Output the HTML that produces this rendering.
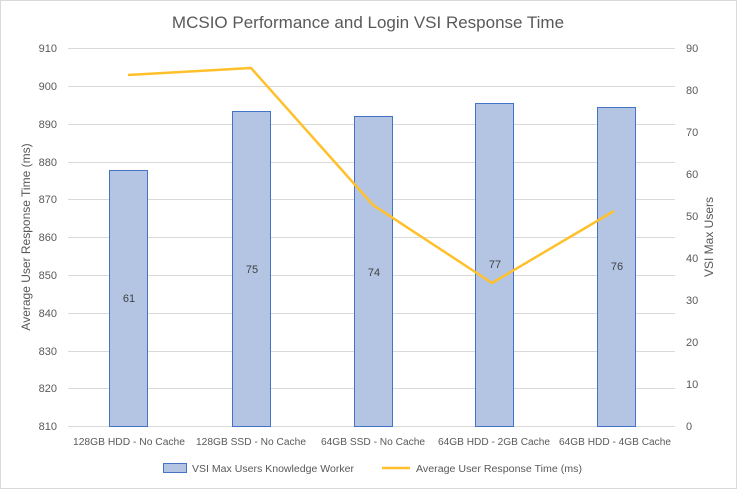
<!DOCTYPE html>
<html><head><style>
body{margin:0;background:#fff}
svg{display:block;font-family:"Liberation Sans",sans-serif}
</style></head><body>
<svg width="737" height="489" viewBox="0 0 737 489">
<rect x="0.5" y="0.5" width="736" height="488" fill="#fff" stroke="#d9d9d9"/>
<text x="368" y="28" font-size="17" fill="#595959" text-anchor="middle">MCSIO Performance and Login VSI Response Time</text>
<g stroke="#d9d9d9" stroke-width="1">
<line x1="68" x2="675" y1="48.5" y2="48.5"/><line x1="68" x2="675" y1="86.5" y2="86.5"/>
<line x1="68" x2="675" y1="124.5" y2="124.5"/><line x1="68" x2="675" y1="162.5" y2="162.5"/>
<line x1="68" x2="675" y1="199.5" y2="199.5"/><line x1="68" x2="675" y1="237.5" y2="237.5"/>
<line x1="68" x2="675" y1="275.5" y2="275.5"/><line x1="68" x2="675" y1="313.5" y2="313.5"/>
<line x1="68" x2="675" y1="351.5" y2="351.5"/><line x1="68" x2="675" y1="388.5" y2="388.5"/>
<line x1="68" x2="675" y1="426.5" y2="426.5"/>
</g>
<g font-size="11" fill="#595959" text-anchor="end">
<text x="57" y="52">910</text><text x="57" y="90">900</text><text x="57" y="128">890</text>
<text x="57" y="166">880</text><text x="57" y="203">870</text><text x="57" y="241">860</text>
<text x="57" y="279">850</text><text x="57" y="317">840</text><text x="57" y="355">830</text>
<text x="57" y="392">820</text><text x="57" y="430">810</text>
</g>
<g font-size="11" fill="#595959" text-anchor="start">
<text x="686" y="52">90</text><text x="686" y="94">80</text><text x="686" y="136">70</text>
<text x="686" y="178">60</text><text x="686" y="220">50</text><text x="686" y="262">40</text>
<text x="686" y="304">30</text><text x="686" y="346">20</text><text x="686" y="388">10</text>
<text x="686" y="430">0</text>
</g>
<text transform="translate(30,237) rotate(-90)" font-size="12" fill="#595959" text-anchor="middle">Average User Response Time (ms)</text>
<text transform="translate(713,237) rotate(-90)" font-size="12" fill="#595959" text-anchor="middle">VSI Max Users</text>
<g fill="#b4c5e4" stroke="#4472c4" stroke-width="1">
<rect x="109.5" y="170.5" width="38" height="256"/>
<rect x="232.5" y="111.5" width="38" height="315"/>
<rect x="354.5" y="116.5" width="38" height="310"/>
<rect x="475.5" y="103.5" width="38" height="323"/>
<rect x="597.5" y="107.5" width="38" height="319"/>
</g>
<g font-size="11" fill="#404040" text-anchor="middle">
<text x="129" y="302">61</text><text x="252" y="273">75</text><text x="374" y="276">74</text>
<text x="495" y="268">77</text><text x="617" y="270">76</text>
</g>
<polyline points="128,75 251,68 373,205 492,283 614,211" fill="none" stroke="#ffc02b" stroke-width="2.5" stroke-linejoin="round"/>
<g font-size="10" fill="#595959" text-anchor="middle">
<text x="129" y="445" textLength="112" lengthAdjust="spacingAndGlyphs">128GB HDD - No Cache</text>
<text x="251" y="445" textLength="110" lengthAdjust="spacingAndGlyphs">128GB SSD - No Cache</text>
<text x="373" y="445" textLength="104" lengthAdjust="spacingAndGlyphs">64GB SSD - No Cache</text>
<text x="494" y="445" textLength="112" lengthAdjust="spacingAndGlyphs">64GB HDD - 2GB Cache</text>
<text x="615" y="445" textLength="112" lengthAdjust="spacingAndGlyphs">64GB HDD - 4GB Cache</text>
</g>
<rect x="163.5" y="463.5" width="23" height="9" fill="#b4c5e4" stroke="#4472c4"/>
<text x="192" y="472" font-size="10" fill="#595959" textLength="162" lengthAdjust="spacingAndGlyphs">VSI Max Users Knowledge Worker</text>
<line x1="382" x2="410" y1="468" y2="468" stroke="#ffc02b" stroke-width="2.5"/>
<text x="416" y="472" font-size="10" fill="#595959" textLength="166" lengthAdjust="spacingAndGlyphs">Average User Response Time (ms)</text>
</svg>
</body></html>
